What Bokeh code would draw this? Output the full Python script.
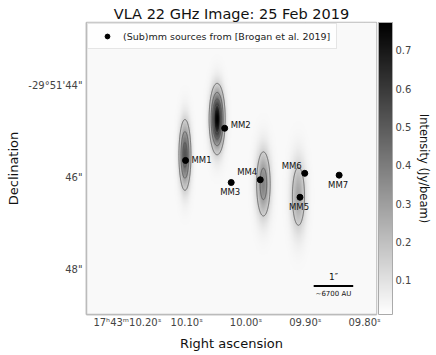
import numpy as np
from bokeh.plotting import figure
from bokeh.models import (Range1d, LinearColorMapper, ColorBar, FixedTicker, LinearAxis,
                          ColumnDataSource, Legend, LegendItem, CustomJSTickFormatter)
from bokeh.palettes import Greys256
from bokeh.embed import file_html
from bokeh.resources import INLINE
from bokeh.core.properties import value

# ---------------- data ----------------
# RA given as seconds after 17h43m, Dec as arcsec after -29d51'
mm_names = ["MM1", "MM2", "MM3", "MM4", "MM5", "MM6", "MM7"]
mm_ra_s = [10.102, 10.036, 10.025, 9.976, 9.909, 9.901, 9.843]
mm_dec_as = [45.63, 44.93, 46.11, 46.05, 46.43, 45.91, 45.95]

# 22 GHz emission components (Gaussian fits)
em_ra_s = [10.0487, 10.103, 9.9707, 9.9116]
em_dec_as = [44.73, 45.51, 46.14, 46.41]
em_peak = [0.75, 0.50, 0.35, 0.25]
em_sig_ra_s = [0.0071, 0.0060, 0.0078, 0.0084]
em_sig_dec_as = [0.406, 0.456, 0.477, 0.52]
bg_level = 0.03

contour_levels = [0.15, 0.30, 0.45, 0.60]
cbar_low, cbar_high = 0.011, 0.773
cbar_ticks = [0.1, 0.2, 0.3, 0.4, 0.5, 0.6, 0.7]

ra_ticks = [10.20, 10.10, 10.00, 9.90, 9.80]
ra_labels = ["17ʰ43ᵐ10.20ˢ", "10.10ˢ", "10.00ˢ", "09.90ˢ", "09.80ˢ"]
dec_ticks = [44, 46, 48]
dec_labels = ["-29°51'44\"", "46\"", "48\""]

scalebar_ra_s = 9.8526
scalebar_dec_as = 48.36
scalebar_len_as = 1.0

# ---------------- layout ----------------
FONT = "DejaVu Sans"
W, H = 436, 355
BL, BR, BT, BB = 86, 60, 22, 41
FW, FH = W - BL - BR, H - BT - BB
ra_min, ra_max = 9.780, 10.269
dec_min, dec_max = 42.63, 48.98

# plot coordinates: x = -RA (east left), y = -arcsec (north up)
p = figure(width=W, height=H, output_backend="svg", toolbar_location=None,
           x_range=Range1d(-ra_max, -ra_min), y_range=Range1d(-dec_max, -dec_min),
           min_border_left=BL, min_border_right=BR, min_border_top=BT,
           min_border_bottom=BB, title="VLA 22 GHz Image: 25 Feb 2019")
p.title.align = "center"
p.title.text_font = FONT
p.title.text_font_size = "14.5px"
p.title.text_font_style = "normal"
p.title.text_color = "#111111"
p.title.standoff = 1
p.title.offset = -7

# image
xs = np.linspace(-ra_max, -ra_min, 400)
ys = np.linspace(-dec_max, -dec_min, 400)
X, Y = np.meshgrid(xs, ys)
Z = np.full_like(X, bg_level)
for r, d, a, sr, sd in zip(em_ra_s, em_dec_as, em_peak, em_sig_ra_s, em_sig_dec_as):
    Z += a * np.exp(-((X + r) ** 2) / (2 * sr ** 2) - ((Y + d) ** 2) / (2 * sd ** 2))

cmap = LinearColorMapper(palette=list(reversed(Greys256)), low=cbar_low, high=cbar_high)
p.image(image=[Z], x=-ra_max, y=-dec_max, dw=ra_max - ra_min, dh=dec_max - dec_min,
        color_mapper=cmap)
p.contour(x=xs, y=ys, z=Z, levels=contour_levels, line_color="#555555",
          line_width=0.8, fill_color=None)

# grid / axes
grid_x = [-t for t in ra_ticks]
grid_y = [-t for t in dec_ticks]
p.xaxis.ticker = FixedTicker(ticks=grid_x)
p.yaxis.ticker = FixedTicker(ticks=grid_y)
fmt_code = """
let best = 0;
for (let i = 0; i < t.length; i++) {
  if (Math.abs(t[i] - tick) < Math.abs(t[best] - tick)) best = i;
}
return l[best];
"""
p.xaxis.formatter = CustomJSTickFormatter(args=dict(t=grid_x, l=ra_labels), code=fmt_code)
p.yaxis.formatter = CustomJSTickFormatter(args=dict(t=grid_y, l=dec_labels), code=fmt_code)
for ax in (p.xaxis[0], p.yaxis[0]):
    ax.major_tick_line_color = None
    ax.minor_tick_line_color = None
    ax.major_tick_out = 0
    ax.major_tick_in = 0
    ax.minor_tick_out = 0
    ax.minor_tick_in = 0
    ax.axis_line_color = "#bbbbbb"
    ax.axis_line_width = 1.5
    ax.major_label_text_font = FONT
    ax.major_label_text_font_size = "10px"
    ax.major_label_text_color = "#444444"
    ax.axis_label_text_font = FONT
    ax.axis_label_text_font_size = "13px"
    ax.axis_label_text_font_style = "normal"
    ax.axis_label_text_color = "#111111"
p.xaxis.axis_label = "Right ascension"
p.yaxis.axis_label = "Declination"
p.xaxis.major_label_standoff = 2
p.yaxis.major_label_standoff = 4
p.xaxis.axis_label_standoff = 5
p.yaxis.axis_label_standoff = 4
p.grid.grid_line_color = "#b0b0b0"
p.grid.grid_line_width = 1
p.outline_line_color = "#bbbbbb"
p.outline_line_width = 1.5

# sources
src = ColumnDataSource(dict(
    x=[-v for v in mm_ra_s], y=[-v for v in mm_dec_as], name=mm_names,
    dx=[6, 6, -1, -3, -1, -3, -1], dy=[0, -3, 9.5, -8, 10, -7.5, 10],
    align=["left", "left", "center", "right", "center", "right", "center"]))
pts = p.scatter("x", "y", source=src, size=6, color="black")
p.text("x", "y", text="name", source=src, x_offset="dx", y_offset="dy",
       text_align="align", text_baseline="middle", text_font=value(FONT),
       text_font_size="8.5px", text_color="#111111")

# scale bar (1 arcsec, in RA seconds of time)
half = scalebar_len_as / 15.0 / 2.0
p.segment(x0=[-(scalebar_ra_s + half)], x1=[-(scalebar_ra_s - half)],
          y0=[-scalebar_dec_as], y1=[-scalebar_dec_as], line_color="black", line_width=2)
p.text(x=[-scalebar_ra_s, -scalebar_ra_s], y=[-scalebar_dec_as, -scalebar_dec_as],
       text=["1″", "~6700 AU"], y_offset=[-9, 8], text_align="center",
       text_baseline="middle", text_font=value(FONT),
       text_font_size=["9px", "7px"], text_color="#111111")

# legend
leg = Legend(items=[LegendItem(label="(Sub)mm sources from [Brogan et al. 2019]",
                               renderers=[pts])],
             location="top_left", margin=1, padding=6, glyph_width=26, glyph_height=12,
             label_height=12, label_standoff=3, label_text_font=FONT,
             label_text_font_size="9.5px", label_text_color="#222222",
             background_fill_color="white", background_fill_alpha=0.8,
             border_line_color="#cccccc", border_line_width=1)
p.add_layout(leg, "center")

# colorbar
cb = ColorBar(color_mapper=cmap, location=(FW + 2, 0), width=14, height=FH,
              padding=0, margin=0, ticker=FixedTicker(ticks=cbar_ticks),
              major_label_text_font=FONT, major_label_text_font_size="10px",
              major_label_text_color="#444444", label_standoff=3,
              major_tick_line_color=None, minor_tick_line_color=None,
              bar_line_color="#aaaaaa", background_fill_alpha=0,
              border_line_color=None)
p.add_layout(cb, "center")

# colorbar title carried by an empty right axis
rax = LinearAxis(axis_label="Intensity (Jy/beam)", ticker=FixedTicker(ticks=[]),
                 axis_line_color=None, major_tick_line_color=None,
                 minor_tick_line_color=None, major_tick_out=0, minor_tick_out=0,
                 axis_label_standoff=40, axis_label_text_font=FONT,
                 axis_label_text_font_size="11.5px", axis_label_text_font_style="normal",
                 axis_label_text_color="#111111")
p.add_layout(rax, "right")

open("out.html", "w").write(file_html(p, INLINE))
